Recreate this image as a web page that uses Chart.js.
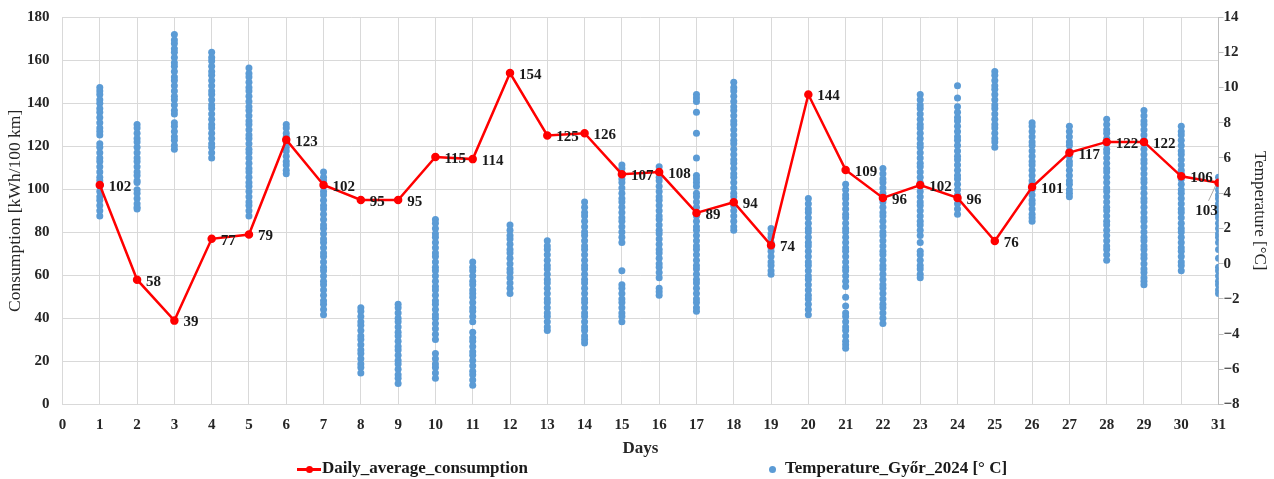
<!DOCTYPE html>
<html lang="en">
<head>
    <meta charset="UTF-8">
    <title>Daily average consumption and temperature</title>
    <script src="https://cdn.jsdelivr.net/npm/chart.js"></script>
    <style>
        * {
            margin: 0;
            padding: 0;
            box-sizing: border-box;
        }
        body {
            background: #ffffff;
            width: 1274px;
            height: 479px;
            position: relative;
            overflow: hidden;
            font-family: 'Liberation Serif', serif;
        }
        .chart-box {
            position: absolute;
            left: 0;
            top: -5px;
            width: 1274px;
            height: 464px;
        }
        .legend {
            position: absolute;
            top: 458px;
            left: 0;
            width: 1274px;
            height: 21px;
            font-weight: bold;
            font-size: 17px;
            color: #1a1a1a;
        }
        .legend span {
            position: absolute;
            top: 0;
            white-space: nowrap;
        }
        .legend .line-icon {
            position: absolute;
            top: 10px;
            width: 24px;
            height: 3px;
            background: #ff0000;
        }
        .legend .line-icon::after {
            content: '';
            position: absolute;
            left: 9px;
            top: -2px;
            width: 7px;
            height: 7px;
            border-radius: 50%;
            background: #ff0000;
        }
        .legend .dot-icon {
            position: absolute;
            top: 8px;
            width: 7px;
            height: 7px;
            border-radius: 50%;
            background: #5b9bd5;
        }
    </style>
</head>
<body>
    <div class="chart-box"><canvas id="consumptionChart"></canvas></div>
    <div class="legend">
        <div class="line-icon" style="left: 297px;"></div>
        <span style="left: 322px;">Daily_average_consumption</span>
        <div class="dot-icon" style="left: 769px;"></div>
        <span style="left: 785px;">Temperature_Győr_2024 [° C]</span>
    </div>

    <script>
        const days = [1, 2, 3, 4, 5, 6, 7, 8, 9, 10, 11, 12, 13, 14, 15, 16,
                      17, 18, 19, 20, 21, 22, 23, 24, 25, 26, 27, 28, 29, 30, 31];

        // kWh/100 km, one value per day
        const dailyConsumption = [102, 58, 39, 77, 79, 123, 102, 95, 95, 115, 114, 154, 125, 126, 107, 108,
                                  89, 94, 74, 144, 109, 96, 102, 96, 76, 101, 117, 122, 122, 106, 103];

        // temperature readings (°C) for each day, day 1 first
        const temperatureByDay = [
            [10.0, 9.8, 9.6, 9.3, 9.1, 8.8, 8.6, 8.3, 8.0, 7.7, 7.5, 7.3, 6.8, 6.6, 6.3, 6.0, 5.8, 5.5, 5.2, 4.9, 4.7, 4.4, 4.1, 3.8, 3.6, 3.3, 3.0, 2.7],
            [7.9, 7.7, 7.4, 7.1, 6.9, 6.6, 6.3, 6.0, 5.8, 5.5, 5.2, 5.0, 4.7, 4.6, 4.2, 4.0, 3.7, 3.4, 3.2, 3.1],
            [13.0, 12.7, 12.5, 12.2, 12.0, 11.7, 11.4, 11.2, 10.9, 10.6, 10.4, 10.1, 9.8, 9.5, 9.3, 9.0, 8.7, 8.5, 8.0, 7.8, 7.5, 7.2, 7.0, 6.7, 6.5],
            [12.0, 11.7, 11.5, 11.2, 10.9, 10.7, 10.4, 10.1, 9.8, 9.6, 9.3, 9.0, 8.8, 8.5, 8.2, 7.9, 7.7, 7.4, 7.1, 6.8, 6.6, 6.3, 6.0],
            [11.1, 10.8, 10.6, 10.3, 10.0, 9.8, 9.5, 9.2, 8.9, 8.7, 8.4, 8.1, 7.9, 7.6, 7.3, 7.1, 6.8, 6.5, 6.3, 6.0, 5.7, 5.4, 5.2, 4.9, 4.6, 4.4, 4.1, 3.8, 3.5, 3.3, 3.0, 2.7],
            [7.9, 7.7, 7.4, 7.2, 6.9, 6.6, 6.4, 6.1, 5.8, 5.6, 5.3, 5.1],
            [5.2, 4.9, 4.7, 4.4, 4.1, 3.9, 3.6, 3.3, 3.1, 2.8, 2.5, 2.2, 2.0, 1.7, 1.4, 1.2, 0.9, 0.6, 0.4, 0.1, -0.2, -0.4, -0.7, -1.0, -1.2, -1.5, -1.8, -2.1, -2.3, -2.6, -2.9],
            [-2.5, -2.7, -3.0, -3.3, -3.5, -3.8, -4.1, -4.3, -4.6, -4.9, -5.1, -5.4, -5.7, -5.9, -6.2],
            [-2.3, -2.5, -2.8, -3.1, -3.3, -3.6, -3.9, -4.1, -4.4, -4.7, -4.9, -5.2, -5.5, -5.7, -6.0, -6.3, -6.5, -6.8],
            [2.5, 2.3, 2.0, 1.7, 1.5, 1.2, 0.9, 0.6, 0.4, 0.1, -0.2, -0.4, -0.7, -1.0, -1.3, -1.5, -1.8, -2.1, -2.3, -2.6, -2.9, -3.1, -3.4, -3.7, -4.0, -4.3, -5.1, -5.4, -5.7, -5.9, -6.2, -6.5],
            [0.1, -0.2, -0.4, -0.7, -1.0, -1.2, -1.5, -1.7, -1.9, -2.2, -2.5, -2.7, -3.0, -3.3, -3.9, -4.2, -4.4, -4.7, -5.0, -5.2, -5.5, -5.8, -6.1, -6.3, -6.6, -6.9],
            [2.2, 1.9, 1.6, 1.4, 1.1, 0.8, 0.6, 0.3, 0.0, -0.3, -0.5, -0.8, -1.1, -1.4, -1.7],
            [1.3, 1.0, 0.8, 0.5, 0.2, -0.1, -0.3, -0.6, -0.9, -1.1, -1.4, -1.7, -2.0, -2.2, -2.5, -2.8, -3.0, -3.3, -3.6, -3.8],
            [3.5, 3.2, 2.9, 2.7, 2.4, 2.1, 1.8, 1.6, 1.3, 1.0, 0.8, 0.5, 0.2, -0.1, -0.3, -0.6, -0.9, -1.1, -1.4, -1.7, -2.0, -2.2, -2.5, -2.8, -3.0, -3.3, -3.6, -3.8, -4.1, -4.3, -4.5],
            [5.6, 5.4, 5.1, 4.8, 4.6, 4.3, 4.0, 3.7, 3.5, 3.2, 2.9, 2.6, 2.4, 2.1, 1.8, 1.5, 1.2, -0.4, -1.2, -1.4, -1.7, -2.0, -2.2, -2.5, -2.8, -3.0, -3.3],
            [5.5, 5.2, 4.9, 4.7, 4.4, 4.1, 3.8, 3.6, 3.3, 3.0, 2.7, 2.5, 2.2, 1.9, 1.7, 1.4, 1.1, 0.8, 0.6, 0.3, 0.0, -0.2, -0.5, -0.8, -1.4, -1.6, -1.8],
            [9.6, 9.4, 9.2, 8.6, 7.4, 6.0, 5.0, 4.8, 4.6, 4.4, 4.0, 3.8, 3.5, 3.2, 2.9, 2.7, 2.4, 2.1, 1.9, 1.6, 1.3, 1.0, 0.8, 0.5, 0.2, -0.1, -0.3, -0.6, -0.9, -1.1, -1.4, -1.7, -2.0, -2.2, -2.5, -2.7],
            [10.3, 10.0, 9.8, 9.5, 9.2, 8.9, 8.7, 8.4, 8.1, 7.9, 7.6, 7.3, 7.0, 6.8, 6.5, 6.2, 5.9, 5.7, 5.4, 5.1, 4.9, 4.6, 4.3, 4.0, 3.8, 3.5, 3.3, 3.0, 2.7, 2.4, 2.1, 1.9],
            [2.0, 1.7, 1.5, 1.2, 0.9, 0.7, 0.4, 0.1, -0.1, -0.4, -0.6],
            [3.7, 3.4, 3.1, 2.9, 2.6, 2.3, 2.0, 1.8, 1.5, 1.2, 1.0, 0.7, 0.4, 0.1, -0.1, -0.4, -0.7, -0.9, -1.2, -1.5, -1.8, -2.0, -2.3, -2.6, -2.9],
            [4.5, 4.2, 3.9, 3.7, 3.4, 3.1, 2.8, 2.6, 2.3, 2.0, 1.8, 1.5, 1.2, 0.9, 0.7, 0.4, 0.1, -0.2, -0.4, -0.7, -1.0, -1.3, -1.9, -2.4, -2.8, -3.0, -3.3, -3.6, -3.8, -4.1, -4.4, -4.6, -4.8],
            [5.4, 5.1, 4.8, 4.6, 4.3, 4.0, 3.7, 3.5, 3.2, 2.9, 2.7, 2.4, 2.1, 1.8, 1.6, 1.3, 1.0, 0.7, 0.5, 0.2, -0.1, -0.3, -0.6, -0.9, -1.2, -1.4, -1.7, -2.0, -2.3, -2.5, -2.8, -3.1, -3.4],
            [9.6, 9.3, 9.0, 8.8, 8.5, 8.2, 7.9, 7.7, 7.4, 7.1, 6.8, 6.6, 6.3, 6.0, 5.7, 5.5, 5.2, 4.9, 4.6, 4.4, 4.1, 3.8, 3.5, 3.3, 3.0, 2.7, 2.4, 2.2, 1.9, 1.6, 1.2, 0.7, 0.5, 0.2, -0.1, -0.3, -0.6, -0.8],
            [10.1, 9.4, 8.9, 8.6, 8.3, 8.1, 7.8, 7.5, 7.2, 7.0, 6.7, 6.4, 6.1, 5.9, 5.6, 5.3, 5.0, 4.8, 4.5, 4.2, 3.9, 3.7, 3.4, 3.1, 2.8],
            [10.9, 10.7, 10.4, 10.1, 9.9, 9.6, 9.3, 9.0, 8.8, 8.5, 8.2, 7.9, 7.7, 7.4, 7.1, 6.9, 6.6],
            [8.0, 7.8, 7.5, 7.2, 6.9, 6.7, 6.4, 6.1, 5.8, 5.6, 5.3, 5.0, 4.7, 4.5, 4.2, 3.9, 3.6, 3.4, 3.1, 2.8, 2.6, 2.4],
            [7.8, 7.5, 7.2, 6.9, 6.7, 6.4, 6.1, 5.8, 5.6, 5.3, 5.0, 4.7, 4.5, 4.2, 4.0, 3.8],
            [8.2, 7.9, 7.6, 7.4, 7.1, 6.8, 6.5, 6.3, 6.0, 5.7, 5.4, 5.2, 4.9, 4.6, 4.3, 4.1, 3.8, 3.5, 3.2, 3.0, 2.7, 2.4, 2.2, 1.9, 1.6, 1.3, 1.0, 0.8, 0.5, 0.2],
            [8.7, 8.4, 8.1, 7.9, 7.6, 7.3, 7.0, 6.8, 6.5, 6.2, 5.9, 5.7, 5.4, 5.1, 4.8, 4.6, 4.3, 4.0, 3.7, 3.5, 3.2, 2.9, 2.6, 2.4, 2.1, 1.8, 1.5, 1.3, 1.0, 0.8, 0.5, 0.3, 0.0, -0.3, -0.5, -0.8, -1.0, -1.2],
            [7.8, 7.5, 7.3, 7.0, 6.7, 6.4, 6.2, 5.9, 5.6, 5.3, 5.1, 4.8, 4.5, 4.2, 4.0, 3.7, 3.4, 3.1, 2.9, 2.6, 2.3, 2.0, 1.8, 1.5, 1.2, 0.9, 0.7, 0.4, 0.1, -0.1, -0.4],
            [4.9, 4.5, 4.2, 3.9, 3.7, 3.4, 3.1, 2.8, 2.6, 2.3, 2.0, 1.7, 1.5, 1.2, 0.8, 0.3, -0.2, -0.4, -0.7, -1.0, -1.2, -1.5, -1.7]
        ];

        const xTicks = { min: 0, max: 31, step: 1 };
        const consumptionTicks = { min: 0, max: 180, step: 20 };
        const temperatureTicks = { min: -8, max: 14, step: 2 };

        const serif = "'Liberation Serif', serif";
        const textColor = '#262626';
        const gridColor = '#d9d9d9';

        const linePoints = days.map((d, i) => ({ x: d, y: dailyConsumption[i] }));
        const tempPoints = [];
        temperatureByDay.forEach((list, i) => {
            list.forEach(t => tempPoints.push({ x: days[i], y: t }));
        });

        // value labels next to each consumption point
        const valueLabels = {
            id: 'valueLabels',
            afterDatasetsDraw(chart) {
                const ctx = chart.ctx;
                const meta = chart.getDatasetMeta(0);
                ctx.save();
                ctx.font = 'bold 15px ' + serif;
                ctx.fillStyle = '#1a1a1a';
                ctx.textBaseline = 'middle';
                meta.data.forEach((pt, i) => {
                    const text = String(dailyConsumption[i]);
                    if (i === meta.data.length - 1) {
                        // last label sits below-left with a leader line
                        ctx.strokeStyle = '#a6a6a6';
                        ctx.lineWidth = 1;
                        ctx.beginPath();
                        ctx.moveTo(pt.x - 3, pt.y + 3);
                        ctx.lineTo(pt.x - 10, pt.y + 18);
                        ctx.stroke();
                        ctx.textAlign = 'center';
                        ctx.fillText(text, pt.x - 12, pt.y + 28);
                    } else {
                        ctx.textAlign = 'left';
                        ctx.fillText(text, pt.x + 9, pt.y + 2);
                    }
                });
                ctx.restore();
            }
        };

        const ctx = document.getElementById('consumptionChart').getContext('2d');
        new Chart(ctx, {
            type: 'scatter',
            data: {
                datasets: [
                    {
                        type: 'line',
                        label: 'Daily_average_consumption',
                        data: linePoints,
                        borderColor: '#ff0000',
                        backgroundColor: '#ff0000',
                        borderWidth: 2.5,
                        pointRadius: 3,
                        pointHoverRadius: 3,
                        tension: 0,
                        yAxisID: 'y',
                        order: 1
                    },
                    {
                        type: 'scatter',
                        label: 'Temperature_Győr_2024 [° C]',
                        data: tempPoints,
                        backgroundColor: '#5b9bd5',
                        borderColor: '#5b9bd5',
                        pointRadius: 3.5,
                        borderWidth: 0,
                        yAxisID: 'y1',
                        order: 2
                    }
                ]
            },
            options: {
                responsive: true,
                maintainAspectRatio: false,
                animation: false,
                layout: {
                    autoPadding: false,
                    padding: { left: 0, right: 2, top: 2, bottom: 0 }
                },
                scales: {
                    x: {
                        type: 'linear',
                        min: xTicks.min,
                        max: xTicks.max,
                        ticks: {
                            stepSize: xTicks.step,
                            color: textColor,
                            font: { family: serif, size: 15, weight: 'bold' },
                            padding: 12
                        },
                        grid: { color: gridColor, drawTicks: false },
                        border: { color: gridColor },
                        title: {
                            display: true,
                            text: 'Days',
                            color: textColor,
                            font: { family: serif, size: 17, weight: 'bold' },
                            padding: { top: -8, bottom: 0 }
                        }
                    },
                    y: {
                        position: 'left',
                        min: consumptionTicks.min,
                        max: consumptionTicks.max,
                        ticks: {
                            stepSize: consumptionTicks.step,
                            color: textColor,
                            font: { family: serif, size: 15, weight: 'bold' },
                            padding: 13
                        },
                        grid: { color: gridColor, drawTicks: false },
                        border: { color: gridColor },
                        title: {
                            display: true,
                            text: 'Consumption [kWh/100 km]',
                            color: textColor,
                            font: { family: serif, size: 17.5 },
                            padding: { top: 5, bottom: -12 }
                        }
                    },
                    y1: {
                        position: 'right',
                        min: temperatureTicks.min,
                        max: temperatureTicks.max,
                        ticks: {
                            stepSize: temperatureTicks.step,
                            color: textColor,
                            font: { family: serif, size: 15, weight: 'bold' },
                            padding: 0,
                            callback: v => String(v).replace('-', '\u2212')
                        },
                        grid: { drawOnChartArea: false, color: '#bfbfbf', tickLength: 5 },
                        border: { color: '#bfbfbf' },
                        title: {
                            display: true,
                            text: 'Temperature [°C]',
                            color: textColor,
                            font: { family: serif, size: 17 },
                            padding: { top: 2, bottom: 10 }
                        }
                    }
                },
                plugins: {
                    legend: { display: false },
                    tooltip: { enabled: false }
                }
            },
            plugins: [valueLabels]
        });
    </script>
</body>
</html>
